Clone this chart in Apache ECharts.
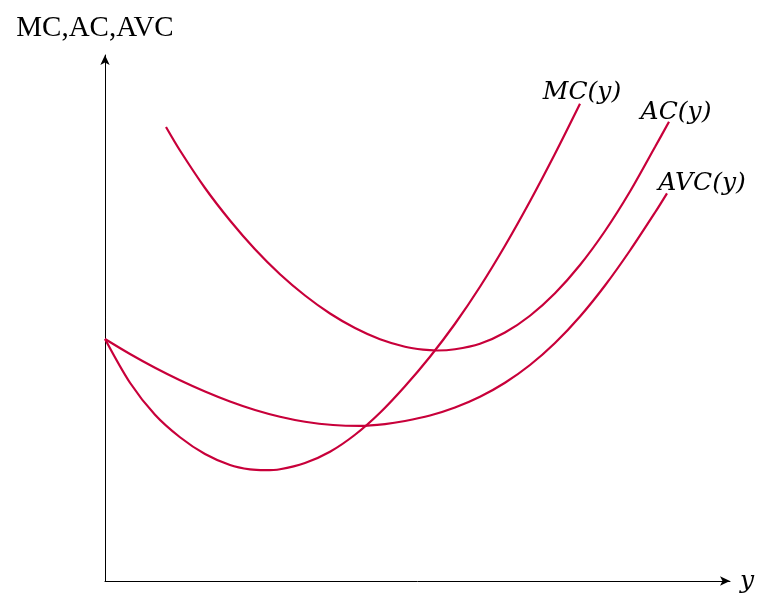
<!DOCTYPE html>
<html>
<head>
<meta charset="utf-8">
<script src="https://cdn.jsdelivr.net/npm/echarts@6/dist/echarts.min.js"></script>
<style>html,body{margin:0;padding:0;background:#fff;}#chart{width:759px;height:594px;}</style>
</head>
<body>
<div id="chart"></div>
<script>
// Values (x: output y, y: cost level; arbitrary units)
var mcData = [[0,242],[25,198.25],[50,166.25],[75,143.75],[100,127],[125,116],[145,111.6],[160,110.8],[175,111.75],[200,118],[225,129.25],[250,146.25],[275,168.25],[300,194.75],[325,224.25],[350,257.25],[375,294.25],[400,335.25],[425,379.75],[450,427.25],[475,477.25]];
var acData = [[61,454],[75,430.5],[100,393],[125,360.5],[150,331.75],[175,306.75],[200,285.5],[225,267.5],[250,253],[275,241.75],[300,234.25],[318,231.3],[332,230.5],[350,231.75],[375,237.25],[400,248.5],[425,265.25],[450,287.75],[475,316],[500,350],[525,389.5],[550,434],[564,459.2]];
var avcData = [[0,242],[25,227],[50,213.25],[75,200.75],[100,189.5],[125,179.5],[150,171],[175,164.25],[200,159.25],[228,156],[255,155.1],[280,156.9],[300,160],[325,165.5],[350,173.5],[375,184.25],[400,198.25],[425,216],[450,238],[475,264.5],[500,295.5],[525,330.5],[550,368.5],[562,387.7]];
var curveLabels = ['MC(y)', 'AC(y)', 'AVC(y)'];
var yAxisTitle = 'MC,AC,AVC';
var xAxisTitle = 'y';

var color = '#c8003a';
var mathFont = 'DejaVu Serif';

function endLabel(text, offset) {
  return {
    show: true, formatter: text, distance: 0, offset: offset,
    align: 'center', verticalAlign: 'bottom',
    color: '#000', fontFamily: mathFont, fontStyle: 'italic', fontSize: 25
  };
}

function lineSeries(name, data, label) {
  return {
    type: 'line', name: name, data: data, smooth: 0.3,
    showSymbol: false, symbol: 'none', endLabel: label,
    lineStyle: { color: color, width: 2.2 }, itemStyle: { color: color }
  };
}

var chart = echarts.init(document.getElementById('chart'));
chart.setOption({
  animation: false,
  backgroundColor: '#fff',
  grid: { left: 105, right: 29, top: 55, bottom: 13, containLabel: false },
  xAxis: {
    type: 'value', min: 0, max: 625,
    name: xAxisTitle, nameLocation: 'end', nameGap: 10,
    nameTextStyle: { fontFamily: mathFont, fontStyle: 'italic', fontSize: 25, color: '#000', verticalAlign: 'middle' },
    axisLine: { show: true, symbol: ['none', 'arrow'], symbolSize: [7, 10], lineStyle: { color: '#000', width: 1 } },
    axisTick: { show: false }, axisLabel: { show: false }, splitLine: { show: false }
  },
  yAxis: {
    type: 'value', min: 0, max: 526,
    name: yAxisTitle, nameLocation: 'end', nameGap: 12,
    nameTextStyle: { fontFamily: 'Liberation Serif', fontSize: 29, color: '#000', padding: [0, 20, 0, 0] },
    axisLine: { show: true, symbol: ['none', 'arrow'], symbolSize: [7, 10], lineStyle: { color: '#000', width: 1 } },
    axisTick: { show: false }, axisLabel: { show: false }, splitLine: { show: false }
  },
  series: [
    lineSeries('MC', mcData, endLabel(curveLabels[0], [2, 1])),
    lineSeries('AC', acData, endLabel(curveLabels[1], [7, 3])),
    lineSeries('AVC', avcData, endLabel(curveLabels[2], [35, 3]))
  ]
});
</script>
</body>
</html>
